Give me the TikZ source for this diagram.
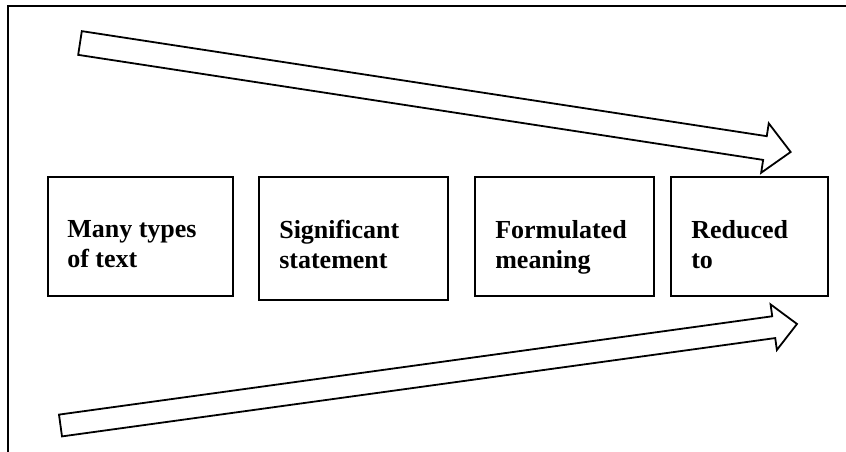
\documentclass[tikz,border=0pt]{standalone}
\usepackage{fontspec}
\setmainfont{Liberation Serif}
\usetikzlibrary{positioning,calc}
\tikzset{
  % outer frame (only top and left edges are visible)
  frame/.style={line width=2pt},
  % step boxes
  box/.style={draw, line width=1.8pt, minimum height=119pt, inner sep=0pt},
  % box text
  lbl/.style={anchor=north west, inner sep=0pt, align=left,
    font=\fontsize{26}{30}\selectfont\bfseries},
  % hollow block arrows
  blockarr/.style={draw, line width=1.8pt, fill=white, line join=miter},
}

\begin{document}
\begin{tikzpicture}[x=1pt, y=-1pt]
    \useasboundingbox (0,0) rectangle (846,452);

    % frame
    \draw[frame] (8,452) -- (8,6) -- (846,6);

    % boxes
    \node[box, minimum width=185pt] (b1) at (140.5,236.5) {};
    \node[box, minimum width=189pt, minimum height=123pt] (b2) at (353.5,238.5) {};
    \node[box, minimum width=179pt] (b3) at (564.5,236.5) {};
    \node[box, minimum width=157pt] (b4) at (749.5,236.5) {};

    % texts
    \node[lbl] (t1) at ($(b1.north west)+(20,44)$) {Many types\\of text};
    \node[lbl] (t2) at ($(b2.north west)+(21,44)$) {Significant\\statement};
    \node[lbl] (t3) at ($(b3.north west)+(21,44)$) {Formulated\\meaning};
    \node[lbl] (t4) at ($(b4.north west)+(21,44)$) {Reduced\\to};

    % upper arrow
    \begin{scope}[shift={(80,43)}, rotate=-8.72]
        \draw[blockarr] (0,-12) -- (693,-12) -- (693,-25) -- (719,0)
            -- (693,25) -- (693,12) -- (0,12) -- cycle;
    \end{scope}

    % lower arrow
    \begin{scope}[shift={(60.5,425.5)}, rotate=7.85]
        \draw[blockarr] (0,-11) -- (720,-11) -- (720,-23) -- (743.5,0)
            -- (720,23) -- (720,11) -- (0,11) -- cycle;
    \end{scope}
\end{tikzpicture}
\end{document}
